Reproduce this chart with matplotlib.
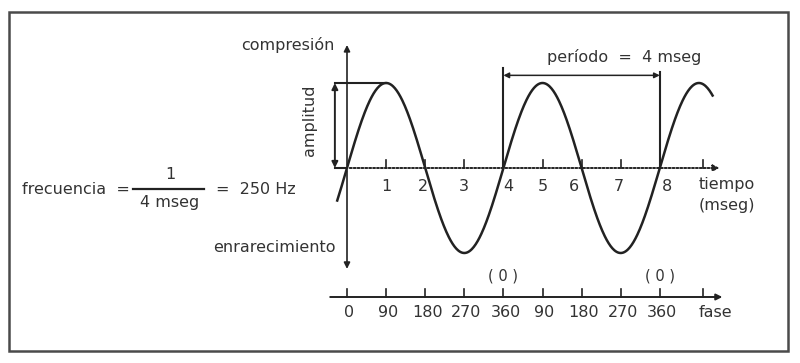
import numpy as np
import matplotlib.pyplot as plt
from matplotlib.patches import Rectangle

# time axis (ms) and phase labels
time_ticks = [0, 1, 2, 3, 4, 5, 6, 7, 8, 9.1]
time_labels = ['', '1', '2', '3', '4', '5', '6', '7', '8', '']
phase_labels = ['0', '90', '180', '270', '360', '90', '180', '270', '360', '']
phase_zero_marks = [4, 8]
period_ms = 4
wave_start, wave_end = -0.25, 9.35
amplitude = 1.0

ink = '#222222'
txt = '#333333'
fs = 11.5

fig = plt.figure(figsize=(8, 3.63), dpi=100)
ax = fig.add_axes([0, 0, 1, 1])
# 39.1 px per ms, 85 px per amplitude unit, origin at pixel (347, 168)
ax.set_xlim(-347 / 39.1, (800 - 347) / 39.1)
ax.set_ylim(-(363 - 168) / 85, 168 / 85)
ax.axis('off')

ax.add_patch(Rectangle((0.011, 0.033), 0.974, 0.934, transform=ax.transAxes,
                       fill=False, ec='#4a4a4a', lw=1.8))

# sine wave
t = np.linspace(wave_start, wave_end, 600)
ax.plot(t, amplitude * np.sin(2 * np.pi * t / period_ms), color=ink, lw=1.8)

# vertical axis
ax.annotate('', xy=(0, 1.48), xytext=(0, 0), arrowprops=dict(arrowstyle='-|>', color=ink, lw=1.2, mutation_scale=9))
ax.annotate('', xy=(0, -1.22), xytext=(0, 0), arrowprops=dict(arrowstyle='-|>', color=ink, lw=1.2, mutation_scale=9))
ax.text(-0.32, 1.45, 'compresión', ha='right', va='center', fontsize=fs, color=txt)
ax.text(-0.28, -0.94, 'enrarecimiento', ha='right', va='center', fontsize=fs, color=txt)

# dotted time axis
ax.annotate('', xy=(9.6, 0), xytext=(0, 0),
            arrowprops=dict(arrowstyle='-|>', color=ink, lw=1.4, ls=(0, (1, 1)), mutation_scale=9))
time_nudge = {2: -2, 4: 5, 6: -7, 7: -2, 8: 7}
for tk, lb in zip(time_ticks, time_labels):
    if tk > 0:
        ax.plot([tk, tk], [0, 0.09], color=ink, lw=1.2)
    if lb:
        ax.annotate(lb, (tk, 0), xytext=(time_nudge.get(int(lb), 0) * 0.75, -13), textcoords='offset points',
                    ha='center', va='center', fontsize=fs, color=txt)
ax.text(9.0, -0.2, 'tiempo', ha='left', va='center', fontsize=fs, color=txt)
ax.text(9.0, -0.44, '(mseg)', ha='left', va='center', fontsize=fs, color=txt)

# amplitude bracket
xa = -0.31
ax.plot([xa, 1], [amplitude, amplitude], color=ink, lw=1.5)
ax.plot([xa, 0], [0, 0], color=ink, lw=1.5)
ax.annotate('', xy=(xa, amplitude), xytext=(xa, 0),
            arrowprops=dict(arrowstyle='<|-|>', color=ink, lw=1.4, mutation_scale=9, shrinkA=0, shrinkB=0))
ax.text(-0.95, 0.56, 'amplitud', rotation=90, ha='center', va='center', fontsize=fs, color=txt)

# period bracket
ax.plot([4, 4], [0, 1.18], color=ink, lw=1.5)
ax.plot([8, 8], [0, 1.13], color=ink, lw=1.5)
ax.annotate('', xy=(4, 1.09), xytext=(8, 1.09),
            arrowprops=dict(arrowstyle='<|-|>', color=ink, lw=1.1, mutation_scale=8, shrinkA=0, shrinkB=0))
ax.text(7.08, 1.31, 'período  =  4 mseg', ha='center', va='center', fontsize=fs, color=txt)

# phase axis
yp = -(297 - 168) / 85
ax.annotate('', xy=(9.6, yp), xytext=(-0.43, yp),
            arrowprops=dict(arrowstyle='-|>', color=ink, lw=1.4, mutation_scale=9, shrinkA=0, shrinkB=0))
for tk, lb in zip(time_ticks, phase_labels):
    ax.plot([tk, tk], [yp, yp + 0.1], color=ink, lw=1.2)
    if lb:
        ax.annotate(lb, (tk, yp), xytext=(1.5, -11), textcoords='offset points',
                    ha='center', va='center', fontsize=fs, color=txt)
ax.text(9.0, yp - 0.18, 'fase', ha='left', va='center', fontsize=fs, color=txt)
for tk in phase_zero_marks:
    ax.annotate('( 0 )', (tk, yp), xytext=(0, 15), textcoords='offset points',
                ha='center', va='center', fontsize=fs - 1, color=txt)

# frequency formula
fx = ax.transData.inverted()
def px(x, y):
    return fx.transform(ax.transAxes.transform((x / 800, 1 - y / 363)))
ax.text(*px(22, 190), 'frecuencia  =', ha='left', va='center', fontsize=fs, color=txt)
ax.plot(*zip(px(133, 189), px(204, 189)), color=ink, lw=1.6)
ax.text(*px(170, 175), '1', ha='center', va='center', fontsize=fs, color=txt)
ax.text(*px(170, 203), '4 mseg', ha='center', va='center', fontsize=fs, color=txt)
ax.text(*px(216, 190), '=  250 Hz', ha='left', va='center', fontsize=fs, color=txt)

fig.savefig('out.png', dpi=100, facecolor='white')
